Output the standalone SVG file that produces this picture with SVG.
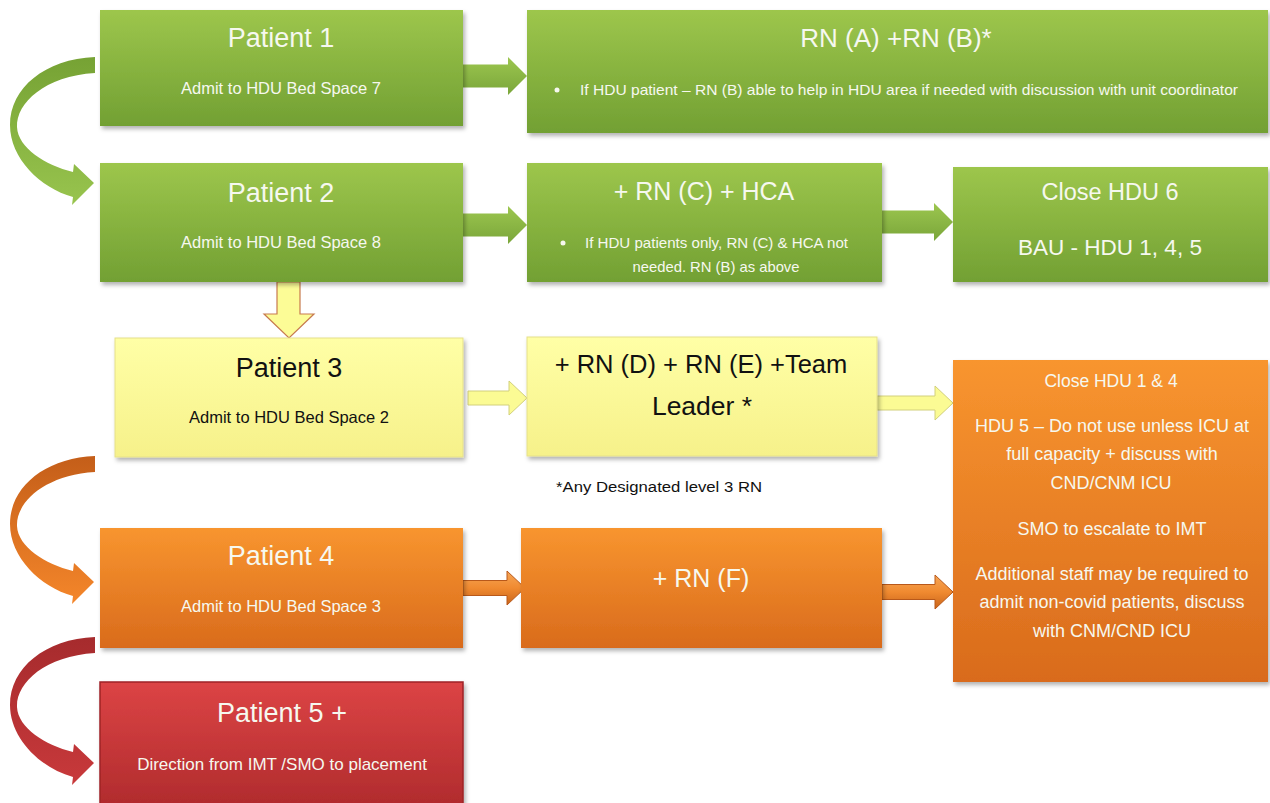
<svg xmlns="http://www.w3.org/2000/svg" width="1270" height="803" viewBox="0 0 1270 803">
<defs>
<style>
.t { font-family: "Liberation Sans", Arial, sans-serif; text-anchor: middle; }
.s { text-anchor: start; }
.w { fill: #f6f8ef; }
.k { fill: #111; }
.h { font-size: 27px; }
.sub { font-size: 16.5px; }
.bx { filter: url(#sh); }
.yb { stroke: #e6e08a; stroke-width: 1; }
.ya { fill: #fbfb94; stroke: #d2d07c; stroke-width: 1; }
</style>
<linearGradient id="gG" x1="0" y1="0" x2="0" y2="1"><stop offset="0" stop-color="#9dc64c"/><stop offset="1" stop-color="#72a033"/></linearGradient>
<linearGradient id="gY" x1="0" y1="0" x2="0" y2="1"><stop offset="0" stop-color="#ffffa6"/><stop offset="1" stop-color="#f6f18a"/></linearGradient>
<linearGradient id="gO" x1="0" y1="0" x2="0" y2="1"><stop offset="0" stop-color="#f8952f"/><stop offset="1" stop-color="#d96b1c"/></linearGradient>
<linearGradient id="gR" x1="0" y1="0" x2="0" y2="1"><stop offset="0" stop-color="#dc4445"/><stop offset="1" stop-color="#b02b2d"/></linearGradient>
<linearGradient id="cG" x1="0" y1="0" x2="0" y2="1"><stop offset="0" stop-color="#76a234"/><stop offset="1" stop-color="#98c44e"/></linearGradient>
<linearGradient id="cO" x1="0" y1="0" x2="0" y2="1"><stop offset="0" stop-color="#c45e19"/><stop offset="1" stop-color="#f4862a"/></linearGradient>
<linearGradient id="cR" x1="0" y1="0" x2="0" y2="1"><stop offset="0" stop-color="#a62b2d"/><stop offset="1" stop-color="#c8393b"/></linearGradient>
<linearGradient id="aG" x1="0" y1="0" x2="0" y2="1"><stop offset="0" stop-color="#9cc64f"/><stop offset="1" stop-color="#7aa63a"/></linearGradient>
<linearGradient id="aO" x1="0" y1="0" x2="0" y2="1"><stop offset="0" stop-color="#f6a656"/><stop offset="0.5" stop-color="#f08a30"/><stop offset="1" stop-color="#c8641a"/></linearGradient>
<filter id="sh" x="-5%" y="-10%" width="112%" height="125%"><feDropShadow dx="2" dy="3" stdDeviation="2" flood-color="#000" flood-opacity="0.3"/></filter>
<path id="curve" d="M95 57 C45 59 10 88 10 125 C10 158 40 188 73 197 L72 205 L94 183 L74 164 L73 172 C45 165 18 148 17 127 C16 103 45 76 95 73 Z"/>
</defs>
<rect width="1270" height="803" fill="#fff"/>

<g id="connectors">
<use href="#curve" fill="url(#cG)"/>
<use href="#curve" fill="url(#cO)" transform="translate(0,399)"/>
<use href="#curve" fill="url(#cR)" transform="translate(0,580)"/>
<path d="M463 64.5 L508 64.5 L508 57 L527 76 L508 95 L508 87.5 L463 87.5 Z" fill="url(#aG)"/>
<path d="M463 213.5 L508 213.5 L508 206 L527 225 L508 244 L508 236.5 L463 236.5 Z" fill="url(#aG)"/>
<path d="M882 210.5 L934 210.5 L934 203 L953 222 L934 241 L934 233.5 L882 233.5 Z" fill="url(#aG)"/>
<path d="M277 282 L300 282 L300 314 L314 314 L289 338 L264 314 L277 314 Z" fill="#fcfc96" stroke="#c77a4e" stroke-width="1.2"/>
<path class="ya" d="M468 391 L509 391 L509 381 L527 398 L509 415 L509 405 L468 405 Z"/>
<path class="ya" d="M877 396 L935 396 L935 386 L953 403 L935 420 L935 410 L877 410 Z"/>
<path d="M463 580.5 L507 580.5 L507 571 L525 588 L507 605 L507 595.5 L463 595.5 Z" fill="url(#aO)" stroke="#b8581a" stroke-width="1"/>
<path d="M882 584.5 L935 584.5 L935 575 L953 592 L935 609 L935 599.5 L882 599.5 Z" fill="url(#aO)" stroke="#b8581a" stroke-width="1"/>
</g>

<g id="patient1">
<rect class="bx" x="100" y="10" width="363" height="116" fill="url(#gG)"/>
<text class="t w h" x="281" y="47">Patient 1</text>
<text class="t w sub" x="281" y="94">Admit to HDU Bed Space 7</text>
</g>
<g id="rnA">
<rect class="bx" x="527" y="10" width="741" height="123" fill="url(#gG)"/>
<text class="t w" x="896" y="47" font-size="26">RN (A) +RN (B)*</text>
<circle cx="557" cy="90" r="2.5" fill="#f6f8ef"/>
<text class="t s w" x="580" y="95" font-size="15" textLength="658" lengthAdjust="spacingAndGlyphs">If HDU patient – RN (B) able to help in HDU area if needed with discussion with unit coordinator</text>
</g>
<g id="patient2">
<rect class="bx" x="100" y="163" width="363" height="119" fill="url(#gG)"/>
<text class="t w h" x="281" y="202">Patient 2</text>
<text class="t w sub" x="281" y="248">Admit to HDU Bed Space 8</text>
</g>
<g id="rnC">
<rect class="bx" x="527" y="163" width="355" height="119" fill="url(#gG)"/>
<text class="t w" x="704" y="200" font-size="25">+ RN (C) + HCA</text>
<circle cx="563" cy="243" r="2.5" fill="#f6f8ef"/>
<text class="t s w" x="585" y="248" font-size="14.5" textLength="263" lengthAdjust="spacingAndGlyphs">If HDU patients only, RN (C) &amp; HCA not</text>
<text class="t w" x="716" y="272" font-size="14.5" textLength="167" lengthAdjust="spacingAndGlyphs">needed. RN (B) as above</text>
</g>
<g id="closeHDU6">
<rect class="bx" x="953" y="167" width="315" height="115" fill="url(#gG)"/>
<text class="t w" x="1110" y="200" font-size="23.5">Close HDU 6</text>
<text class="t w" x="1110" y="255" font-size="22.5">BAU - HDU 1, 4, 5</text>
</g>
<g id="patient3">
<rect class="bx yb" x="115" y="338" width="348" height="119" fill="url(#gY)"/>
<text class="t k h" x="289" y="377">Patient 3</text>
<text class="t k sub" x="289" y="423">Admit to HDU Bed Space 2</text>
</g>
<g id="rnD">
<rect class="bx yb" x="527" y="337" width="350" height="119" fill="url(#gY)"/>
<text class="t k" x="701" y="373" font-size="25.5">+ RN (D) + RN (E) +Team</text>
<text class="t k" x="702" y="415" font-size="26.5">Leader *</text>
</g>
<g id="note">
<text class="t s k" x="556" y="492" font-size="15.5" textLength="206" lengthAdjust="spacingAndGlyphs">*Any Designated level 3 RN</text>
</g>
<g id="closeHDU14">
<rect class="bx" x="953" y="360" width="315" height="322" fill="url(#gO)"/>
<text class="t w" x="1111" y="387" font-size="17.5">Close HDU 1 &amp; 4</text>
<text class="t w" x="1112" y="432" font-size="18">HDU 5 – Do not use unless ICU at</text>
<text class="t w" x="1112" y="460" font-size="18">full capacity + discuss with</text>
<text class="t w" x="1111" y="489" font-size="18">CND/CNM ICU</text>
<text class="t w" x="1112" y="535" font-size="18">SMO to escalate to IMT</text>
<text class="t w" x="1112" y="580" font-size="18">Additional staff may be required to</text>
<text class="t w" x="1112" y="608" font-size="18">admit non-covid patients, discuss</text>
<text class="t w" x="1112" y="637" font-size="18">with CNM/CND ICU</text>
</g>
<g id="patient4">
<rect class="bx" x="100" y="528" width="363" height="120" fill="url(#gO)"/>
<text class="t w h" x="281" y="565">Patient 4</text>
<text class="t w sub" x="281" y="612">Admit to HDU Bed Space 3</text>
</g>
<g id="rnF">
<rect class="bx" x="521" y="528" width="361" height="120" fill="url(#gO)"/>
<text class="t w" x="701" y="587" font-size="25">+ RN (F)</text>
</g>
<g id="patient5">
<rect class="bx" x="100" y="682" width="363" height="125" fill="url(#gR)" stroke="#9e2426" stroke-width="1.5"/>
<text class="t w h" x="282" y="722">Patient 5 +</text>
<text class="t w" x="282" y="770" font-size="17">Direction from IMT /SMO to placement</text>
</g>
</svg>
